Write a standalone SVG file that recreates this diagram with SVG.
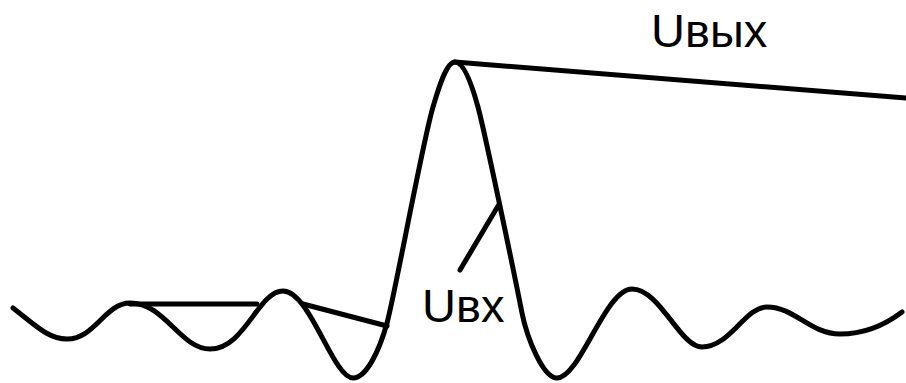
<svg xmlns="http://www.w3.org/2000/svg" width="906" height="383" viewBox="0 0 906 383">
<style>
.ln{fill:none;stroke:#000;stroke-width:5;stroke-linecap:round;stroke-linejoin:round}
.lb{font-family:"Liberation Sans",Arial,sans-serif;font-size:47px;fill:#000}
</style>
<rect width="906" height="383" fill="#fff"/>
<g id="signal">
<path class="ln" d="M13,308 C35,325 48,339 67,339 C95,339 105,303 130,303 C165,303 180,349 210,349 C245,349 258,291 283,291 C310,291 333,378 353,378 C366,378 379,352 387,323 C395,294 423,140 433,107 C438,90 446,62 455,62 C464,62 472,85 478,107 C484,129 512,262 522,313 C527,338 543,378 557,378 C580,378 605,289 632,289 C660,289 680,347 702,347 C730,347 745,307 767,307 C795,307 810,334 840,334 C865,334 885,325 902,312"/>
</g>
<g id="connectors">
<line class="ln" x1="130" y1="304" x2="257" y2="304"/>
<line class="ln" x1="303" y1="304" x2="387" y2="326"/>
<line class="ln" x1="455" y1="62" x2="906" y2="98"/>
<line class="ln" x1="498" y1="206" x2="460" y2="270"/>
</g>
<g id="label-out"><text class="lb" x="651" y="47">Uвых</text></g>
<g id="label-in"><text class="lb" x="422" y="322">Uвх</text></g>
</svg>
